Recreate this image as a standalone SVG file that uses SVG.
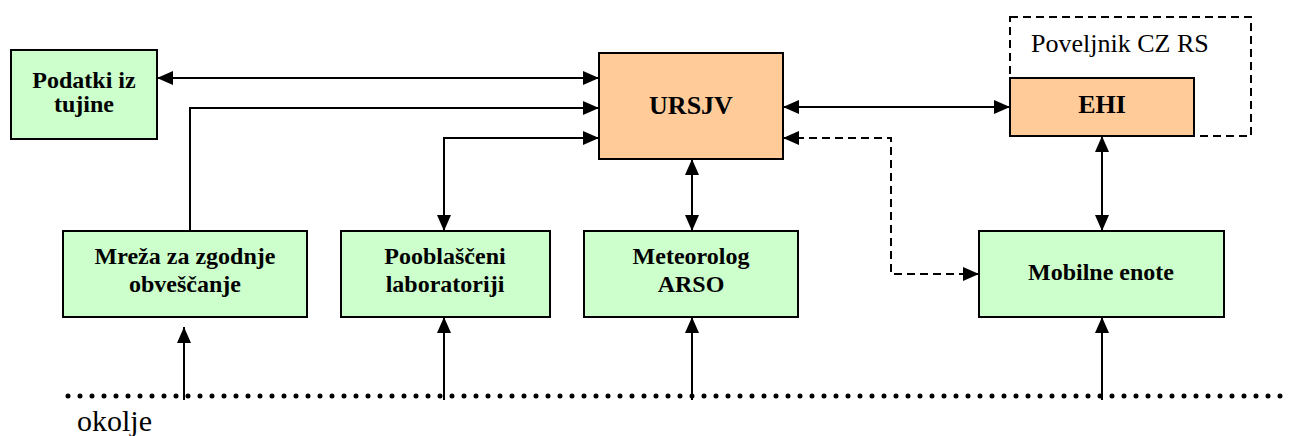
<svg xmlns="http://www.w3.org/2000/svg" width="1302" height="436" viewBox="0 0 1302 436">
<style>
.g{fill:#CCFFCC;stroke:#000;stroke-width:2}
.o{fill:#FFCC99;stroke:#000;stroke-width:2}
text{font-family:'Liberation Serif','Times New Roman','DejaVu Serif',serif}
.t{font-weight:bold;font-size:24px;fill:#000;text-anchor:middle}
.tb{font-size:26px}
.n{fill:#000}
.c{fill:none;stroke:#000;stroke-width:2}
.d{stroke-dasharray:8 5}
</style>
<defs>
<marker id="ah" markerUnits="userSpaceOnUse" markerWidth="16" markerHeight="14" refX="16" refY="7" orient="auto-start-reverse">
<path d="M0,0 L16,7 L0,14 z" fill="#000"/>
</marker>
</defs>
<rect x="0" y="0" width="1302" height="436" fill="#fff"/>
<g id="poveljnik">
<rect x="1010" y="17" width="241" height="119" fill="none" stroke="#000" stroke-width="2" stroke-dasharray="8 5"/>
<text class="n" x="1031" y="52" font-size="26">Poveljnik CZ RS</text>
</g>
<g id="podatki">
<rect class="g" x="11" y="50" width="146" height="89"/>
<text class="t" x="84" y="88">Podatki iz</text>
<text class="t" x="84" y="112">tujine</text>
</g>
<g id="ursjv">
<rect class="o" x="599" y="53" width="184" height="106"/>
<text class="t tb" x="691" y="114">URSJV</text>
</g>
<g id="ehi">
<rect class="o" x="1010" y="78" width="184" height="58"/>
<text class="t tb" x="1102" y="113">EHI</text>
</g>
<g id="mreza">
<rect class="g" x="63" y="231" width="244" height="86"/>
<text class="t" x="185" y="264">Mreža za zgodnje</text>
<text class="t" x="185" y="292">obveščanje</text>
</g>
<g id="pooblasceni">
<rect class="g" x="341" y="231" width="209" height="86"/>
<text class="t" x="445" y="264">Pooblaščeni</text>
<text class="t" x="445" y="292">laboratoriji</text>
</g>
<g id="meteorolog">
<rect class="g" x="584" y="231" width="214" height="86"/>
<text class="t" x="691" y="264">Meteorolog</text>
<text class="t" x="691" y="292">ARSO</text>
</g>
<g id="mobilne">
<rect class="g" x="979" y="231" width="245" height="86"/>
<text class="t" x="1101" y="280">Mobilne enote</text>
</g>
<g id="okolje">
<line x1="68" y1="396" x2="1292" y2="396" stroke="#000" stroke-width="5" stroke-linecap="round" stroke-dasharray="0 12"/>
<text class="n" x="77" y="431" font-size="30">okolje</text>
</g>
<g id="connectors">
<line class="c" x1="157" y1="78" x2="599" y2="78" marker-start="url(#ah)" marker-end="url(#ah)"/>
<path class="c" d="M190,231 V108 H599" marker-end="url(#ah)"/>
<path class="c" d="M599,138 H444 V231" marker-start="url(#ah)" marker-end="url(#ah)"/>
<line class="c" x1="692" y1="159" x2="692" y2="231" marker-start="url(#ah)" marker-end="url(#ah)"/>
<line class="c" x1="783" y1="107" x2="1010" y2="107" marker-start="url(#ah)" marker-end="url(#ah)"/>
<path class="c d" d="M783,138 H891 V274 H979" marker-start="url(#ah)" marker-end="url(#ah)"/>
<line class="c" x1="1102" y1="136" x2="1102" y2="231" marker-start="url(#ah)" marker-end="url(#ah)"/>
<line class="c" x1="184" y1="400" x2="184" y2="327" marker-end="url(#ah)"/>
<line class="c" x1="444" y1="400" x2="444" y2="317" marker-end="url(#ah)"/>
<line class="c" x1="692" y1="400" x2="692" y2="317" marker-end="url(#ah)"/>
<line class="c" x1="1102" y1="400" x2="1102" y2="317" marker-end="url(#ah)"/>
</g>
</svg>
